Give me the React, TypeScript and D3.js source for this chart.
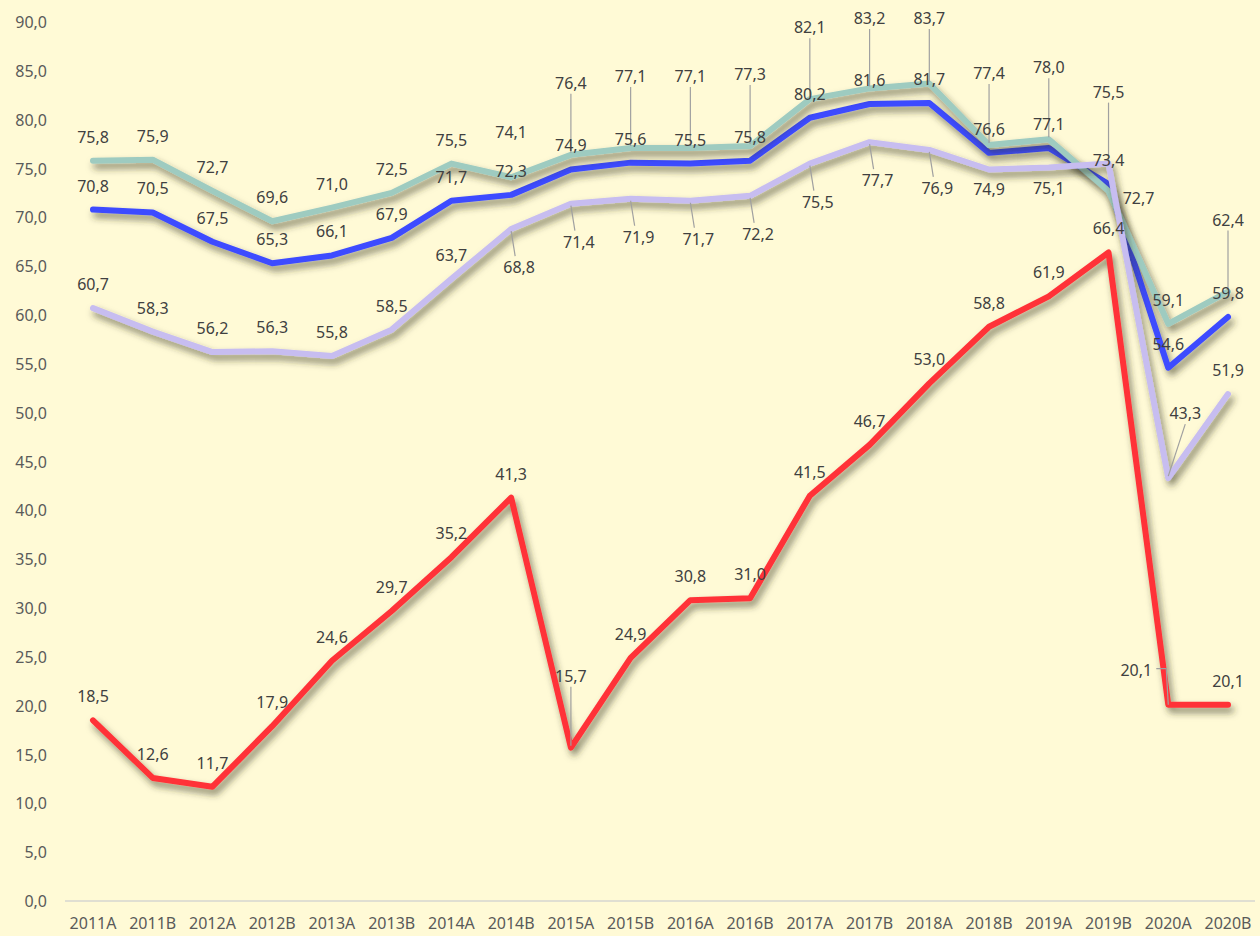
import React from "react";
import * as d3 from "d3";

const categories = [
  "2011A", "2011B", "2012A", "2012B", "2013A", "2013B", "2014A", "2014B", "2015A", "2015B",
  "2016A", "2016B", "2017A", "2017B", "2018A", "2018B", "2019A", "2019B", "2020A", "2020B",
];
const tealValues = [75.8, 75.9, 72.7, 69.6, 71.0, 72.5, 75.5, 74.1, 76.4, 77.1, 77.1, 77.3, 82.1, 83.2, 83.7, 77.4, 78.0, 72.7, 59.1, 62.4];
const blueValues = [70.8, 70.5, 67.5, 65.3, 66.1, 67.9, 71.7, 72.3, 74.9, 75.6, 75.5, 75.8, 80.2, 81.6, 81.7, 76.6, 77.1, 73.4, 54.6, 59.8];
const lavenderValues = [60.7, 58.3, 56.2, 56.3, 55.8, 58.5, 63.7, 68.8, 71.4, 71.9, 71.7, 72.2, 75.5, 77.7, 76.9, 74.9, 75.1, 75.5, 43.3, 51.9];
const redValues = [18.5, 12.6, 11.7, 17.9, 24.6, 29.7, 35.2, 41.3, 15.7, 24.9, 30.8, 31.0, 41.5, 46.7, 53.0, 58.8, 61.9, 66.4, 20.1, 20.1];
const yTicks = d3.range(0, 91, 5);

// label placement codes (a above, h higher, A far above + leader, b below, B below + leader,
// r right, L left + leader, R above-right + leader)
const tealPlace = "a a a a a a a h A A A A A A A A A r a A".split(" ");
const bluePlace = "a a a a a a a a a a a a a a a a a a a a".split(" ");
const lavenderPlace = "a a a a a a a B B B B B B B B b b A R a".split(" ");
const redPlace = "a a a a a a a a A a a a a a a a a a L a".split(" ");

const W = 1260;
const H = 936;

const fmt = d3.formatLocale({ decimal: ",", thousands: ".", grouping: [3], currency: ["", ""] }).format(".1f");

const series = [
  { name: "blue", values: blueValues, color: "#3d4bff", place: bluePlace },
  { name: "teal", values: tealValues, color: "#9ecbc0", place: tealPlace },
  { name: "lavender", values: lavenderValues, color: "#c7bdf0", place: lavenderPlace },
  { name: "red", values: redValues, color: "#ff3338", place: redPlace },
];

const offsets: Record<string, { dx: number; dy: number; leader: boolean }> = {
  a: { dx: 0, dy: -24, leader: false },
  h: { dx: 0, dy: -45, leader: false },
  A: { dx: 0, dy: -72, leader: true },
  b: { dx: 0, dy: 20, leader: false },
  B: { dx: 8, dy: 38, leader: true },
  r: { dx: 30, dy: 7, leader: false },
  L: { dx: -32, dy: -35, leader: true },
  R: { dx: 17, dy: -65, leader: true },
};

const App = () => {
  const x = d3.scalePoint<string>().domain(categories).range([93, 1228]);
  const y = d3.scaleLinear().domain([0, 90]).range([901, 22]);

  const line = d3
    .line<number>()
    .x((d, i) => x(categories[i]) as number)
    .y((d) => y(d));

  const labels: any[] = [];
  series.forEach((s) => {
    s.values.forEach((v, i) => {
      const code = s.place[i];
      const o = offsets[code];
      const px = x(categories[i]) as number;
      const py = y(v);
      const lx = px + o.dx;
      let ly = py + o.dy;
      if (code === "A") ly = Math.max(18, ly);
      let leader: string | null = null;
      if (o.leader) {
        if (code === "L") {
          leader = `M${px},${py}L${px - 2},${ly - 1}L${lx + 20},${ly - 1}`;
        } else if (o.dy < 0) {
          leader = `M${lx},${ly + 11}L${px},${py - 2}`;
        } else {
          leader = `M${px},${py + 2}L${lx - 4},${ly - 11}`;
        }
      }
      labels.push({ key: s.name + i, text: fmt(v), lx, ly, leader });
    });
  });

  return (
    <svg
      width={W}
      height={H}
      style={{ position: "absolute", left: 0, top: 0, fontFamily: "'Noto Sans', sans-serif" }}
    >
      <defs>
        <filter id="shadow" x="-10%" y="-10%" width="120%" height="130%">
          <feDropShadow dx="3" dy="5" stdDeviation="3.5" floodColor="#33321a" floodOpacity="0.6" />
        </filter>
      </defs>
      <rect width={W} height={H} fill="#fffad6" />

      {/* y axis */}
      {yTicks.map((t) => (
        <text
          key={t}
          x={47}
          y={y(t)}
          textAnchor="end"
          dominantBaseline="central"
          fontSize={16}
          fill="#5a5a5a"
        >
          {fmt(t)}
        </text>
      ))}
      <line x1={65} x2={1255} y1={y(0)} y2={y(0)} stroke="#d6d6d0" strokeWidth={1.5} />

      {/* x axis */}
      {categories.map((c) => (
        <text
          key={c}
          x={x(c) as number}
          y={923}
          textAnchor="middle"
          dominantBaseline="central"
          fontSize={16}
          fill="#5a5a5a"
        >
          {c}
        </text>
      ))}

      {/* lines */}
      {series.map((s) => (
        <path
          key={s.name}
          d={line(s.values) as string}
          fill="none"
          stroke={s.color}
          strokeWidth={6}
          strokeLinejoin="round"
          strokeLinecap="round"
          filter="url(#shadow)"
        />
      ))}

      {/* leader lines */}
      {labels
        .filter((l) => l.leader)
        .map((l) => (
          <path key={"ld" + l.key} d={l.leader} fill="none" stroke="#a0a0a0" strokeWidth={1.2} />
        ))}

      {/* data labels */}
      {labels.map((l) => (
        <text
          key={l.key}
          x={l.lx}
          y={l.ly}
          textAnchor="middle"
          dominantBaseline="central"
          fontSize={16}
          fill="#404040"
        >
          {l.text}
        </text>
      ))}
    </svg>
  );
};

export default App;
